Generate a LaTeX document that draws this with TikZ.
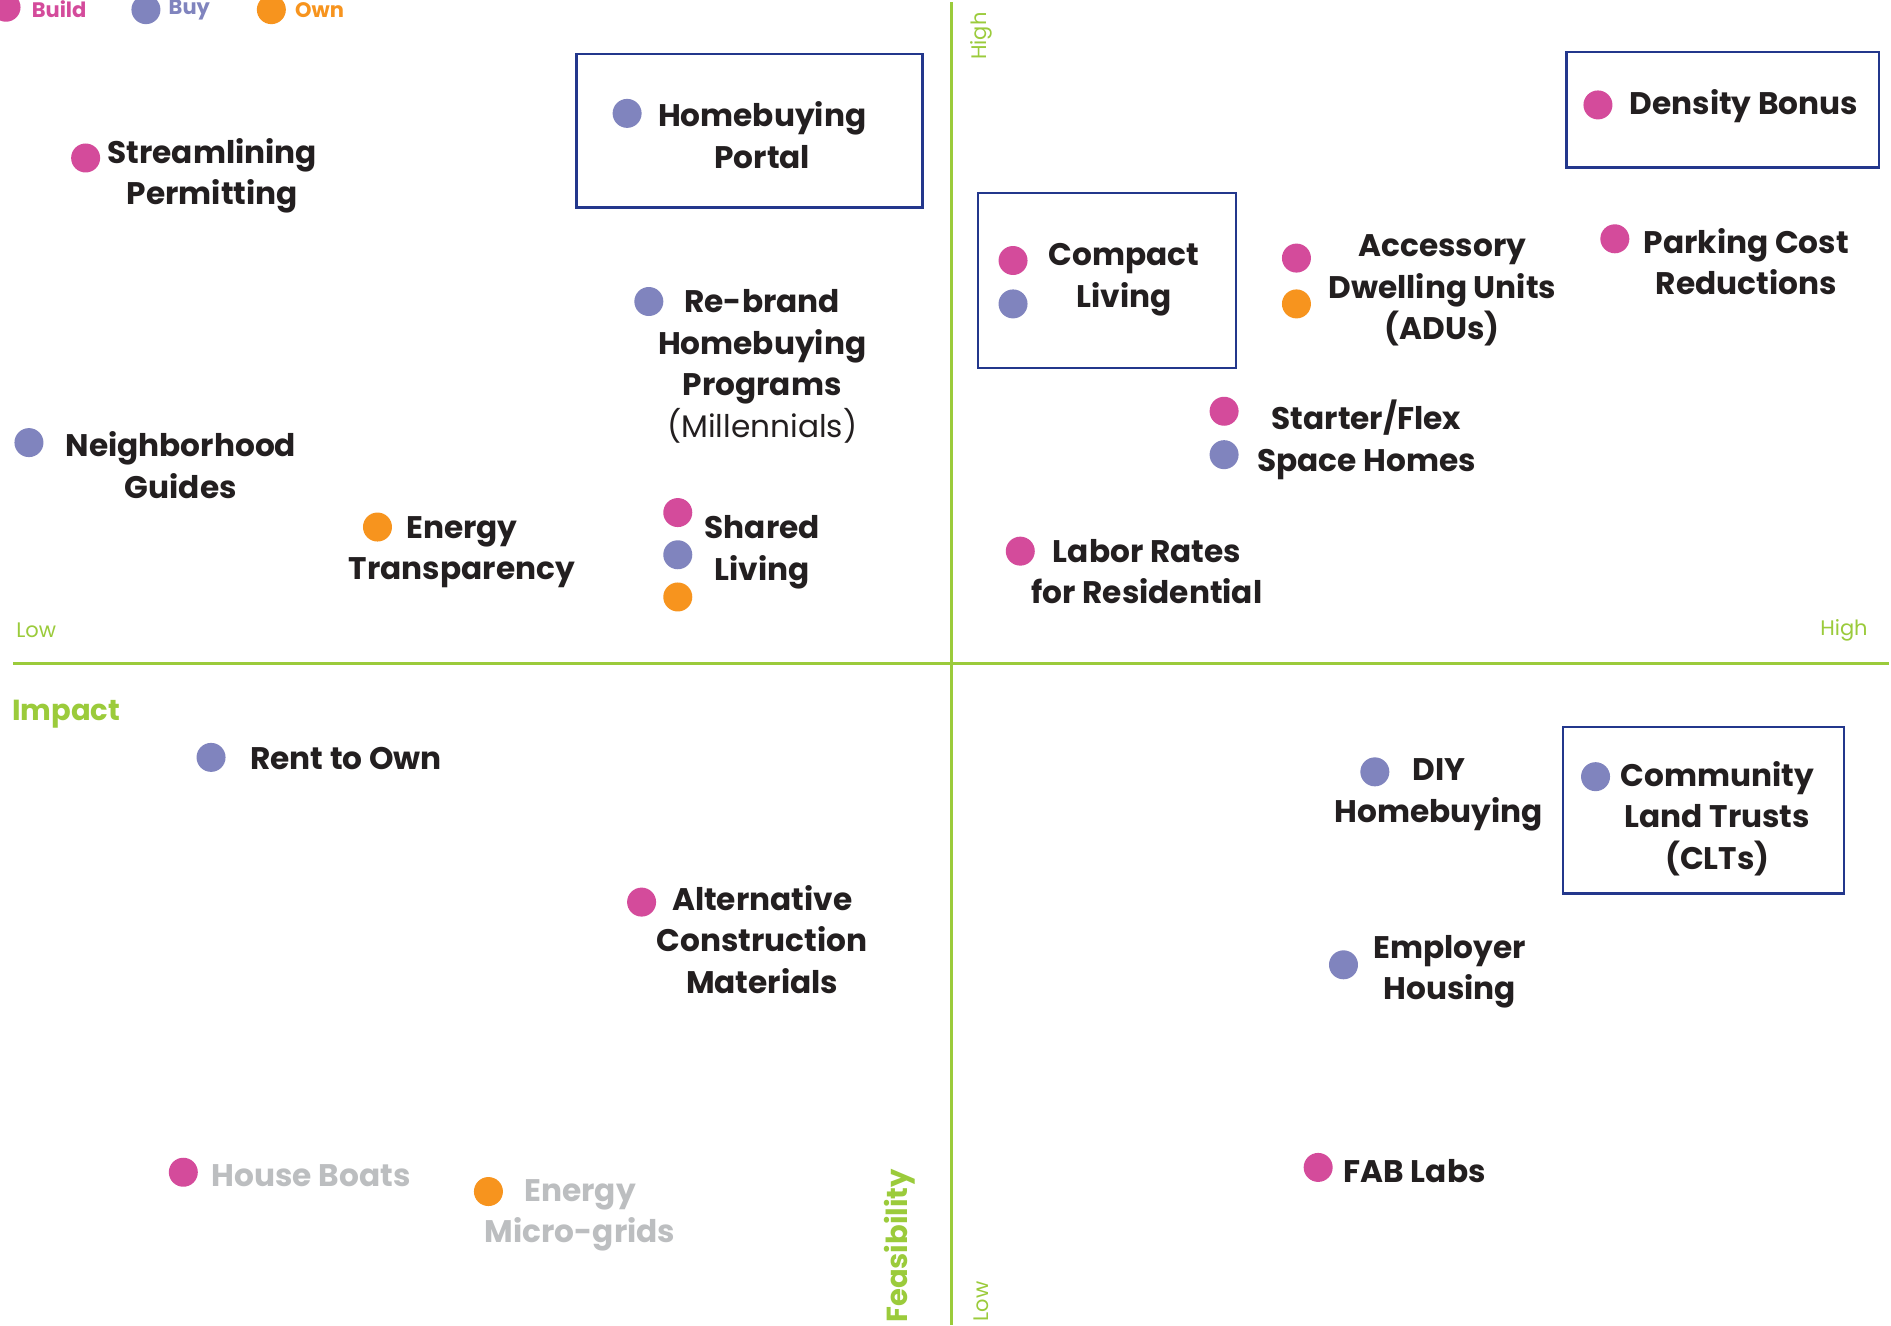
\documentclass[tikz,border=0pt]{standalone}
\usepackage{fontspec}
\setmainfont{Poppins}
\definecolor{cbuild}{HTML}{D44B9B}
\definecolor{cbuy}{HTML}{8084BE}
\definecolor{cown}{HTML}{F7941E}
\definecolor{cgreen}{HTML}{9BCB3B}
\definecolor{cbox}{HTML}{23378C}
\definecolor{ctext}{HTML}{231F20}
\definecolor{cgrey}{HTML}{BCBEC0}
\tikzset{
  lbl/.style={align=center, inner sep=0pt, text=ctext, yshift=-1pt, font=\fontsize{31.2}{41.6}\selectfont\bfseries},
  greylbl/.style={lbl, text=cgrey},
  dotb/.style={circle, fill=cbuild, inner sep=0pt, minimum size=29pt},
  dotu/.style={circle, fill=cbuy, inner sep=0pt, minimum size=29pt},
  doto/.style={circle, fill=cown, inner sep=0pt, minimum size=29pt},
  boxed/.style={draw=cbox, line width=2.4pt},
  axis/.style={draw=cgreen, line width=3pt},
  axlbl/.style={inner sep=0pt, text=cgreen, font=\fontsize{21}{25}\selectfont},
  axtitle/.style={inner sep=0pt, text=cgreen, font=\fontsize{29}{35}\selectfont\bfseries},
  leg/.style={inner sep=0pt, font=\fontsize{21}{25}\selectfont\bfseries},
}
\begin{document}
\begin{tikzpicture}[x=1.206pt,y=-1.206pt]
\useasboundingbox[fill=white] (0,0) rectangle (1568,1099);
% axes
\coordinate (vtop) at (789,2);
\coordinate (vbot) at (789,1099);
\coordinate (hl) at (11,550);
\coordinate (hr) at (1566,550);
\draw[axis] (vtop) -- (vbot);
\draw[axis] (hl) -- (hr);
% axis labels
\node[axlbl] (lowx) at (30,523) {Low};
\node[axlbl] (highx) at (1529,523) {High};
\node[axtitle] (impact) at (55,592) {Impact};
\node[axlbl, rotate=90] (highy) at (814,30) {High};
\node[axlbl, rotate=90] (lowy) at (814,1079) {Low};
\node[axtitle, rotate=90] (feas) at (746,1033) {Feasibility};
% legend
\node[dotb] (legb) at (5,6) {};
\node[leg, text=cbuild] (legbt) at (49,8) {Build};
\node[dotu] (legu) at (121,8) {};
\node[leg, text=cbuy] (legut) at (157,8) {Buy};
\node[doto] (lego) at (225,8) {};
\node[leg, text=cown] (legot) at (265,8) {Own};
% boxes
\draw[boxed] (478,45) rectangle (765,172);
\draw[boxed] (811,160) rectangle (1025,305);
\draw[boxed] (1299,43) rectangle (1558,139);
\draw[boxed] (1296,603) rectangle (1529,741);
% items
\node[dotu] (hp-d) at (520,94) {};
\node[lbl] (hp) at (632,111) {Homebuying\\Portal};
\node[dotb] (sp-d) at (71,131) {};
\node[lbl] (sp) at (176,145) {Streamlining\\Permitting};
\node[dotu] (rb-d) at (538,250) {};
\node[lbl] (rb) at (632,303) {Re-brand\\Homebuying\\Programs\\{\mdseries(Millennials)}};
\node[dotu] (ng-d) at (24,367) {};
\node[lbl] (ng) at (150,385) {Neighborhood\\Guides};
\node[doto] (et-d) at (313,437) {};
\node[lbl] (et) at (383,457) {Energy\\Transparency};
\node[dotb] (sl-d1) at (562,425) {};
\node[dotu] (sl-d2) at (562,460) {};
\node[doto] (sl-d3) at (562,495) {};
\node[lbl] (sl) at (632,457) {Shared\\Living};
\node[dotb] (cl-d1) at (840,216) {};
\node[dotu] (cl-d2) at (840,252) {};
\node[lbl] (cl) at (932,231) {Compact\\Living};
\node[dotb] (adu-d1) at (1075,214) {};
\node[doto] (adu-d2) at (1075,252) {};
\node[lbl] (adu) at (1196,240) {Accessory\\Dwelling Units\\(ADUs)};
\node[dotb] (db-d) at (1325,87) {};
\node[lbl] (db) at (1446,87) {Density Bonus};
\node[dotb] (pc-d) at (1339,198) {};
\node[lbl] (pc) at (1448,216) {Parking Cost\\Reductions};
\node[dotb] (sf-d1) at (1015,341) {};
\node[dotu] (sf-d2) at (1015,377) {};
\node[lbl] (sf) at (1133,364) {Starter/Flex\\Space Homes};
\node[dotb] (lr-d) at (846,457) {};
\node[lbl] (lr) at (951,473) {Labor Rates\\for Residential};
\node[dotu] (ro-d) at (175,628) {};
\node[lbl] (ro) at (287,628) {Rent to Own};
\node[dotb] (ac-d) at (532,748) {};
\node[lbl] (ac) at (632,778) {Alternative\\Construction\\Materials};
\node[dotb] (hb-d) at (152,972) {};
\node[greylbl] (hb) at (258,974) {House Boats};
\node[doto] (mg-d) at (405,988) {};
\node[greylbl] (mg) at (481,1007) {Energy\\Micro-grids};
\node[dotu] (diy-d) at (1140,640) {};
\node[lbl] (diy) at (1193,658) {DIY\\Homebuying};
\node[dotu] (clt-d) at (1323,644) {};
\node[lbl] (clt) at (1424,678) {Community\\Land Trusts\\(CLTs)};
\node[dotu] (eh-d) at (1114,800) {};
\node[lbl] (eh) at (1202,805) {Employer\\Housing};
\node[dotb] (fab-d) at (1093,968) {};
\node[lbl] (fab) at (1173,970) {FAB Labs};
\end{tikzpicture}
\end{document}
